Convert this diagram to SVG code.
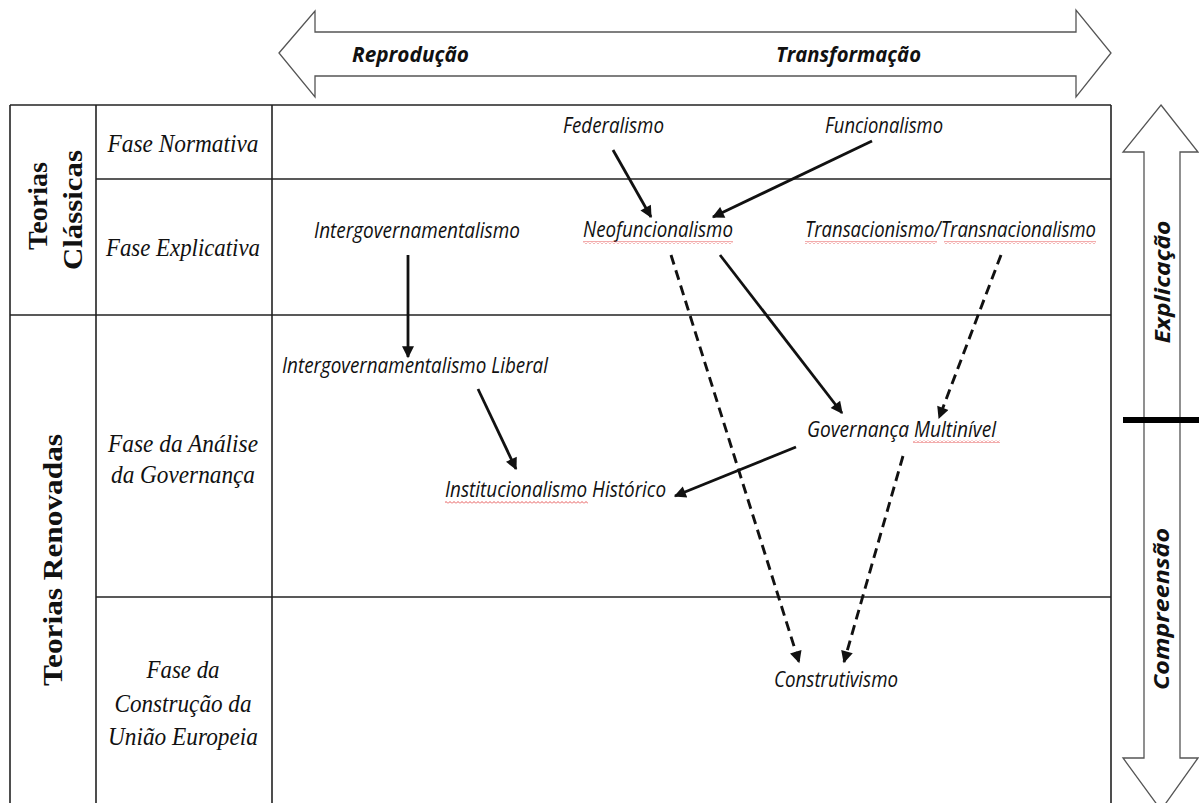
<svg xmlns="http://www.w3.org/2000/svg" width="1199" height="803" viewBox="0 0 1199 803">
<style>
.bg{fill:#fff}
.grid{stroke:#222;stroke-width:1.6;fill:none}
.big{fill:#fff;stroke:#555;stroke-width:1.3}
.lab{font-family:"Open Sans","Liberation Sans",sans-serif;font-style:italic;font-size:21px;fill:#111}
.ph{font-family:"Liberation Serif","Times New Roman",serif;font-style:italic;font-size:25px;fill:#111;text-anchor:middle}
.grp{font-family:"Liberation Serif","Times New Roman",serif;font-weight:bold;font-size:28px;fill:#111;text-anchor:middle}
.ax{font-family:"Open Sans","Liberation Sans",sans-serif;font-weight:bold;font-style:italic;font-size:21px;fill:#111}
.axv{font-family:"Open Sans","Liberation Sans",sans-serif;font-weight:bold;font-style:italic;font-size:21px;fill:#111;text-anchor:middle}
.sol{stroke:#111;stroke-width:2.8;fill:none;marker-end:url(#ah)}
.dsh{stroke:#111;stroke-width:2.9;fill:none;stroke-dasharray:10 6;marker-end:url(#ah)}
.sq{fill:url(#sqp)}
</style>
<defs>
<marker id="ah" viewBox="0 0 10 10" refX="9" refY="5" markerWidth="14" markerHeight="12" markerUnits="userSpaceOnUse" orient="auto">
<path d="M0,0 L10,5 L0,10 z" fill="#111"/>
</marker>
<pattern id="sqp" patternUnits="userSpaceOnUse" width="4" height="3">
<path d="M0,2.5 L2,0.5 L4,2.5" stroke="#e03030" stroke-width="0.8" fill="none"/>
</pattern>
</defs>
<rect class="bg" x="0" y="0" width="1199" height="803"/>

<g id="top-arrow">
<polygon class="big" points="279,53 315,11 315,32 1076,32 1076,10 1111,53 1076,97 1076,76 315,76 315,97"/>
<text class="ax" x="352" y="62" textLength="117" lengthAdjust="spacingAndGlyphs">Reprodução</text>
<text class="ax" x="776" y="62" textLength="145" lengthAdjust="spacingAndGlyphs">Transformação</text>
</g>

<g id="right-arrow">
<polygon class="big" points="1161,105 1198,152 1180,152 1180,758 1198,758 1161,810 1123,758 1144,758 1144,152 1123,152"/>
<text class="axv" transform="translate(1170,282) rotate(-90)" textLength="123" lengthAdjust="spacingAndGlyphs">Explicação</text>
<text class="axv" transform="translate(1169,609) rotate(-90)" textLength="162" lengthAdjust="spacingAndGlyphs">Compreensão</text>
<rect x="1123" y="417" width="76" height="6" fill="#000"/>
</g>

<g id="table">
<line class="grid" x1="10" y1="105" x2="1111" y2="105"/>
<line class="grid" x1="10" y1="105" x2="10" y2="803"/>
<line class="grid" x1="96" y1="105" x2="96" y2="803"/>
<line class="grid" x1="272" y1="105" x2="272" y2="803"/>
<line class="grid" x1="1111" y1="105" x2="1111" y2="803"/>
<line class="grid" x1="96" y1="179" x2="1111" y2="179"/>
<line class="grid" x1="10" y1="315" x2="1111" y2="315"/>
<line class="grid" x1="96" y1="597" x2="1111" y2="597"/>
</g>

<g id="group-classicas">
<text class="grp" transform="translate(47,206) rotate(-90)" textLength="88" lengthAdjust="spacingAndGlyphs">Teorias</text>
<text class="grp" transform="translate(82,210) rotate(-90)" textLength="120" lengthAdjust="spacingAndGlyphs">Clássicas</text>
</g>
<g id="group-renovadas">
<text class="grp" transform="translate(62,560) rotate(-90)" textLength="252" lengthAdjust="spacingAndGlyphs">Teorias Renovadas</text>
</g>

<g id="phase-normativa"><text class="ph" x="183" y="152" textLength="151" lengthAdjust="spacingAndGlyphs">Fase Normativa</text></g>
<g id="phase-explicativa"><text class="ph" x="183" y="256" textLength="154" lengthAdjust="spacingAndGlyphs">Fase Explicativa</text></g>
<g id="phase-governanca">
<text class="ph" x="183" y="452" textLength="150" lengthAdjust="spacingAndGlyphs">Fase da Análise</text>
<text class="ph" x="183" y="483" textLength="144" lengthAdjust="spacingAndGlyphs">da Governança</text>
</g>
<g id="phase-construcao">
<text class="ph" x="183" y="678" textLength="73" lengthAdjust="spacingAndGlyphs">Fase da</text>
<text class="ph" x="183" y="712" textLength="137" lengthAdjust="spacingAndGlyphs">Construção da</text>
<text class="ph" x="183" y="745" textLength="150" lengthAdjust="spacingAndGlyphs">União Europeia</text>
</g>

<g id="n-federalismo"><text class="lab" x="563" y="133" textLength="101" lengthAdjust="spacingAndGlyphs">Federalismo</text></g>
<g id="n-funcionalismo"><text class="lab" x="825" y="133" textLength="118" lengthAdjust="spacingAndGlyphs">Funcionalismo</text></g>
<g id="n-intergov"><text class="lab" x="314" y="238" textLength="206" lengthAdjust="spacingAndGlyphs">Intergovernamentalismo</text></g>
<g id="n-neofunc">
<text class="lab" x="583" y="237" textLength="150" lengthAdjust="spacingAndGlyphs">Neofuncionalismo</text>
<rect class="sq" x="583" y="241" width="150" height="3"/>
</g>
<g id="n-transac">
<text class="lab" x="805" y="237" textLength="291" lengthAdjust="spacingAndGlyphs">Transacionismo/Transnacionalismo</text>
<rect class="sq" x="805" y="241" width="132" height="3"/>
<rect class="sq" x="944" y="241" width="152" height="3"/>
</g>
<g id="n-intergov-liberal"><text class="lab" x="282" y="373" textLength="266" lengthAdjust="spacingAndGlyphs">Intergovernamentalismo Liberal</text></g>
<g id="n-governanca">
<text class="lab" x="807" y="437" textLength="189" lengthAdjust="spacingAndGlyphs">Governança Multinível</text>
<rect class="sq" x="913" y="440" width="87" height="3"/>
</g>
<g id="n-institucionalismo">
<text class="lab" x="445" y="497" textLength="221" lengthAdjust="spacingAndGlyphs">Institucionalismo Histórico</text>
<rect class="sq" x="445" y="501" width="143" height="3"/>
</g>
<g id="n-construtivismo"><text class="lab" x="774" y="687" textLength="124" lengthAdjust="spacingAndGlyphs">Construtivismo</text></g>

<g id="connectors">
<line class="sol" x1="613" y1="150" x2="651" y2="217"/>
<line class="sol" x1="872" y1="141" x2="713" y2="217"/>
<line class="sol" x1="408" y1="255" x2="408" y2="357"/>
<line class="sol" x1="478" y1="389" x2="516" y2="469"/>
<line class="sol" x1="720" y1="255" x2="842" y2="413"/>
<line class="sol" x1="796" y1="447" x2="675" y2="496"/>
<line class="dsh" x1="671" y1="255" x2="799" y2="662"/>
<line class="dsh" x1="1001" y1="255" x2="939" y2="418"/>
<line class="dsh" x1="903" y1="456" x2="844" y2="662"/>
</g>
</svg>
